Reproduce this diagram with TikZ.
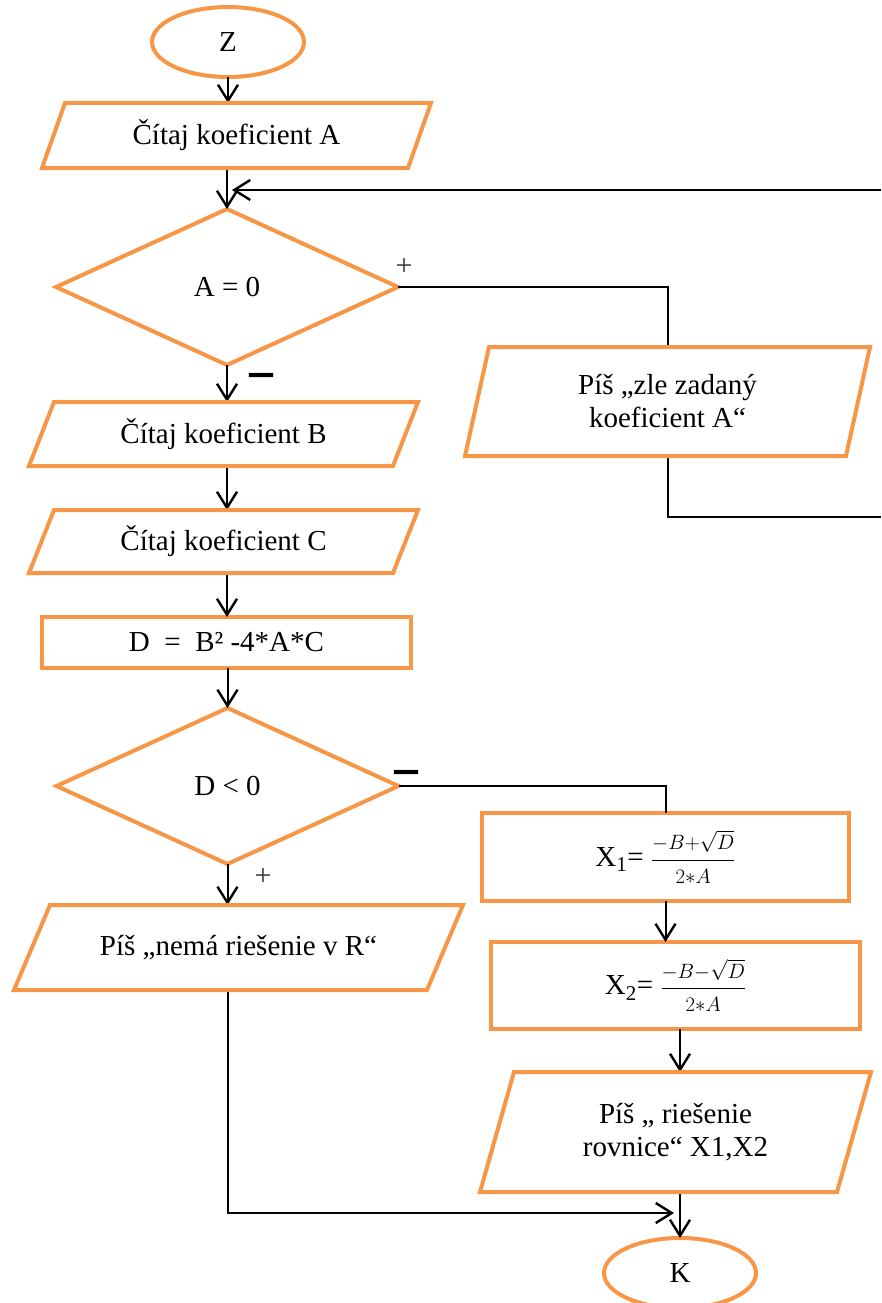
\documentclass[tikz,border=0pt]{standalone}
\usepackage{fontspec}
\setmainfont{Liberation Serif}
\DeclareMathSizes{29}{29}{21}{15}
\usetikzlibrary{shapes.geometric,arrows.meta}
\definecolor{boxorange}{HTML}{F79646}
\definecolor{signgray}{HTML}{333333}
\newcommand{\rootfrac}[2]{$\displaystyle\frac{\scriptstyle #1}{\scriptstyle #2}$}

\begin{document}
\begin{tikzpicture}[x=1pt,y=-1pt,
  every node/.style={inner sep=0pt, outer sep=0pt, align=center,
    font=\fontsize{29}{33}\selectfont},
  term/.style={ellipse, draw=boxorange, line width=4pt,
    minimum width=152pt, minimum height=70pt},
  decision/.style={diamond, draw=boxorange, line width=4pt,
    minimum width=342pt, minimum height=156pt},
  process/.style={rectangle, draw=boxorange, line width=4pt},
  iobox/.style={rectangle},
  flow/.style={line width=2pt, black},
  arrowflow/.style={flow, -{Straight Barb[length=16pt,width=20pt,line width=2.4pt]}},
  plussign/.style={font=\fontsize{30}{30}\selectfont, text=signgray},
  minussign/.style={anchor=base, font=\fontsize{24}{24}\selectfont\bfseries},
]
\useasboundingbox (0,0) rectangle (881,1303);
\clip (0,0) rectangle (881,1303);

% nodes
\node[term] (Z) at (228,42) {Z};
\node[iobox, minimum width=389pt, minimum height=65pt] (pA) at (236.5,135.5) {Čítaj koeficient A};
\node[decision] (dA) at (227,287) {A = 0};
\node[iobox, minimum width=405pt, minimum height=109pt] (pZ) at (667.5,401.5) {Píš „zle zadaný\\koeficient A“};
\node[iobox, minimum width=389pt, minimum height=64pt] (pB) at (223.5,434) {Čítaj koeficient B};
\node[iobox, minimum width=389pt, minimum height=63pt] (pC) at (223.5,541.5) {Čítaj koeficient C};
\node[process, minimum width=369pt, minimum height=51pt] (rD) at (226.5,642.5) {D~ =~ B² -4*A*C};
\node[decision] (dD) at (227.5,786) {D < 0};
\node[iobox, minimum width=449pt, minimum height=85pt] (pN) at (238.5,947.5) {Píš „nemá riešenie v R“};
\node[process, minimum width=367pt, minimum height=88pt] (x1) at (665.5,857) {X\textsubscript{1}= \rootfrac{-B+\sqrt{D}}{2*A}};
\node[process, minimum width=369pt, minimum height=87pt] (x2) at (675.5,985.5) {X\textsubscript{2}= \rootfrac{-B-\sqrt{D}}{2*A}};
\node[iobox, minimum width=391pt, minimum height=120pt] (pR) at (675.5,1132) {Píš „ riešenie\\rovnice“ X1,X2};
\node[term] (K) at (680,1273) {K};

% branch signs
\node[plussign] (plusA) at (404,267) {+};
\node[minussign] (minusA) at (261,389) {\scalebox{1}[2.5]{—}};
\node[minussign] (minusD) at (406,786) {\scalebox{1}[2.5]{—}};
\node[plussign] (plusD) at (263,877) {+};

% free ends of the loop that leaves the right edge
\coordinate (loopTop) at (881,190);
\coordinate (loopLow) at (881,517);
\coordinate (kIn) at (674,1213);

% connectors
\draw[arrowflow] (Z.south) -- (Z.south |- pA.north);
\draw[arrowflow] (dA.north |- pA.south) -- (dA.north);
\draw[arrowflow] (loopTop) -- ([xshift=5pt]dA.north |- loopTop);
\draw[flow] (dA.east) -| (pZ.north);
\draw[flow] (pZ.south) |- (loopLow);
\draw[arrowflow] (dA.south) -- (dA.south |- pB.north);
\draw[arrowflow] (pB.south -| dA.south) -- (pC.north -| dA.south);
\draw[arrowflow] (pC.south -| dA.south) -- (rD.north -| dA.south);
\draw[arrowflow] (rD.south -| dD.north) -- (dD.north);
\draw[flow] (dD.east) -| (x1.north);
\draw[arrowflow] (dD.south) -- (dD.south |- pN.north);
\draw[arrowflow] (x1.south) -- (x1.south |- x2.north);
\draw[arrowflow] (x2.south -| K.north) -- (pR.north -| K.north);
\draw[arrowflow] (pR.south -| K.north) -- (K.north);
\draw[arrowflow] (pN.south -| dD.south) |- (kIn);

% input/output parallelograms
\foreach \n/\s in {pA/23, pZ/24, pB/25, pC/25, pN/36, pR/34}
  \draw[boxorange, line width=4pt]
    ([xshift=\s pt]\n.north west) -- (\n.north east)
    -- ([xshift=-\s pt]\n.south east) -- (\n.south west) -- cycle;
\end{tikzpicture}
\end{document}
